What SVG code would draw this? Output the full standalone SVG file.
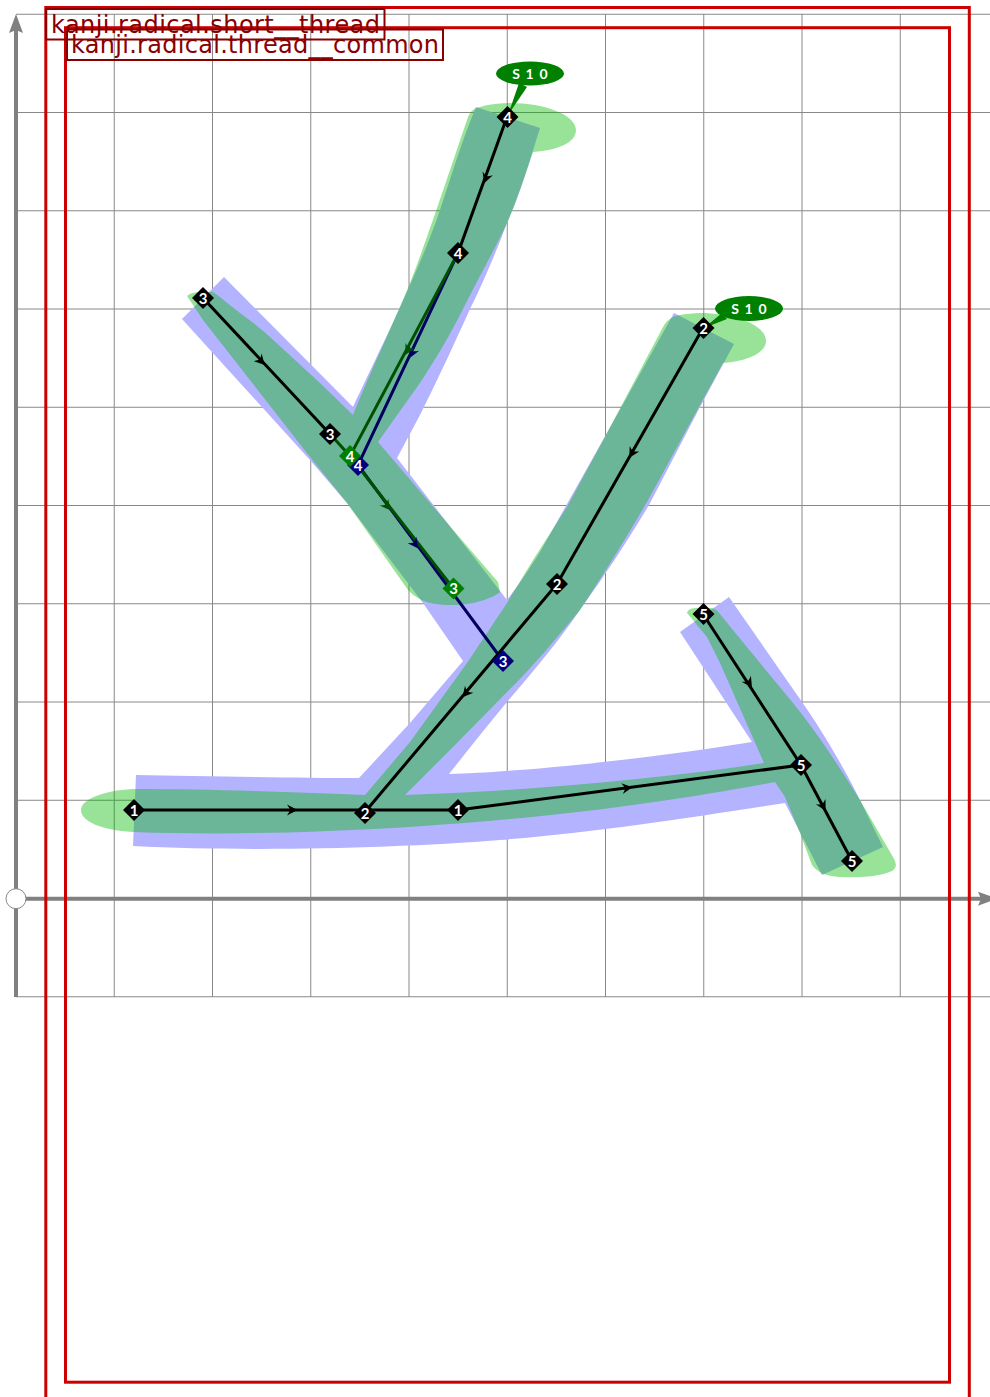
<svg xmlns="http://www.w3.org/2000/svg" width="990" height="1397" viewBox="0 0 990 1397">
<style>
.grid{stroke:#888;stroke-width:1;fill:none}
.axis{stroke:#808080;stroke-width:4;fill:none}
.frame{fill:none;stroke:#cc0000;stroke-width:3}
.lbox{fill:none;stroke:#880000;stroke-width:2}
.ltext{font-family:"DejaVu Sans","Liberation Sans",sans-serif;font-size:24px;fill:#880000}
.blue{fill:#b3b3ff}
.green{fill:rgb(0,185,0);fill-opacity:.4}
.ln{fill:none;stroke-width:3}
.k{stroke:#000}.g{stroke:#005000}.b{stroke:#000060}
.nt{font-family:"Lato","Liberation Sans",sans-serif;font-size:15px;font-weight:700;fill:#fff;text-anchor:middle}
.st{font-family:"Lato","Liberation Sans",sans-serif;font-size:14px;font-weight:700;fill:#fff;text-anchor:middle;letter-spacing:1.2px}
</style>
<defs>
<path id="arr" d="M5.5,0L-5,-5.5Q-2.5,-2 -2,0Q-2.5,2 -5,5.5Z"/>
<path id="d" d="M0,-11L11,0L0,11L-11,0Z"/>
<path id="axarr" d="M19,0L0,-7L3,0L0,7Z" fill="#808080"/>
</defs>
<g id="grid">
<path class="grid" d="M114.25,14V997M212.5,14V997M310.75,14V997M409,14V997M507.25,14V997M605.5,14V997M703.75,14V997M802,14V997M900.25,14V997"/>
<path class="grid" d="M16,14.25H990M16,112.5H990M16,210.75H990M16,309H990M16,407.25H990M16,505.5H990M16,603.75H990M16,702H990M16,800.25H990M16,996.75H990"/>
</g>
<g id="axes">
<path class="axis" d="M16,997V25M16,898.7H985"/>
<use href="#axarr" transform="translate(16,33) rotate(-90)"/>
<use href="#axarr" transform="translate(978,898.7)"/>
<circle cx="16" cy="898.7" r="10" fill="#fff" stroke="#888" stroke-width="1"/>
</g>
<g id="frames">
<path id="frame-short" class="frame" d="M45.8,1400V7.5H969.3V1400"/>
<rect id="frame-common" class="frame" x="65.5" y="27.7" width="884" height="1354.5"/>
</g>
<g id="strokes">
<path class="blue" d="M136,775C200,776 300,778 359,778L410,723L463,661L423,603L347,503L310,460L182,319L224,277L353,407C375,360 420,270 440,210C450,180 462,140 476,107L540,128C530,160 520,195 507,223C495,255 482,285 470,309C455,342 440,375 420,415L397,458L507,600C520,583 530,568 540,552L603,440L674,313L734,344L700,407L649,505C625,545 605,575 582,607C560,640 530,675 507,702C488,725 468,750 449,774C520,772 640,760 752,742L680,632L729,597L802,702C820,728 840,760 860,800L883,847L822,875L785,803C700,816 600,832 500,840C400,848 250,852 133,846Z"/>
<path class="green" d="M81,810C81,798 110,789 137,789C200,789 300,792 365,795L410,742L467,663L507,603L533,560L567,507L607,433L663,327C667,320 672,316 680,315C686,314 693,313 700,313C735,313 766,325 766,341C766,352 750,361 723,363L700,405L647,502C625,540 605,572 580,610C555,640 530,670 507,692C475,725 440,760 405,795C500,792 640,782 764,763L720,663L707,637L687,613C688,609 692,608 697,608L712,608C716,609 718,611 720,614C745,645 770,675 793,703C815,730 835,760 860,800L893,857C897,864 897,868 892,871C880,877 855,878 840,877C825,876 818,873 812,865L800,833L785,797L775,782C680,800 560,818 393,828C300,833 220,835 133,832C100,830 81,821 81,810Z"/>
<path class="green" d="M187,296C190,293 195,292 200,292L213,292L220,297C235,310 255,323 270,337L320,383L353,415C370,373 395,320 410,283C425,245 445,185 468,117C471,110 475,108 480,107C490,104 500,103 510,103C545,103 576,115 576,130C576,142 560,150 533,152C525,175 517,200 507,223C497,245 480,275 463,309C450,335 438,355 422,380L378,442L430,503L498,582L500,592C495,597 475,605 453,605C435,605 420,603 408,590L347,503L310,457L203,320Z"/>
</g>
<g id="connectors">
<path class="ln b" d="M458,253L358,465L503,661"/>
<path class="ln g" d="M458,253L350,456L453,588M330,434L350,456"/>
<path class="ln k" d="M134,810L458,810L801,765M703,328L557,584L365,812M703,614L801,765L852,861M203,298L330,434M507,117L458,253"/>
<use href="#arr" transform="translate(292,810)"/>
<use href="#arr" transform="translate(627,788) rotate(-7.5)"/>
<use href="#arr" transform="translate(632,453) rotate(119.7)"/>
<use href="#arr" transform="translate(466,693) rotate(130)"/>
<use href="#arr" transform="translate(749,683) rotate(57)"/>
<use href="#arr" transform="translate(823,806) rotate(62)"/>
<use href="#arr" transform="translate(261,361) rotate(47)"/>
<use href="#arr" transform="translate(486,178) rotate(110)"/>
<use href="#arr" fill="#000060" transform="translate(412,353) rotate(115)"/>
<use href="#arr" fill="#000060" transform="translate(415,544) rotate(53.5)"/>
<use href="#arr" fill="#005000" transform="translate(408,350) rotate(118)"/>
<use href="#arr" fill="#005000" transform="translate(387,506) rotate(52)"/>
</g>
<g id="callout-1" fill="#008000"><path d="M519,83L527,87L508,115Z"/><ellipse cx="530" cy="73.5" rx="34" ry="12"/><text class="st" x="530.5" y="78.5">S 1 0</text></g>
<g id="callout-2" fill="#008000"><path d="M722,313L727,319L704,328Z"/><ellipse cx="749" cy="308.5" rx="34" ry="12.5"/><text class="st" x="749.5" y="313.5">S 1 0</text></g>
<g id="node-1a"><use href="#d" x="134" y="810"/><text class="nt" x="134" y="815.5">1</text></g>
<g id="node-2a"><use href="#d" x="365" y="813"/><text class="nt" x="365" y="818.5">2</text></g>
<g id="node-1b"><use href="#d" x="458" y="810"/><text class="nt" x="458" y="815.5">1</text></g>
<g id="node-5a"><use href="#d" x="801" y="765"/><text class="nt" x="801" y="770.5">5</text></g>
<g id="node-5b"><use href="#d" x="703.5" y="614"/><text class="nt" x="703.5" y="619.5">5</text></g>
<g id="node-5c"><use href="#d" x="852" y="861"/><text class="nt" x="852" y="866.5">5</text></g>
<g id="node-2b"><use href="#d" x="703.5" y="328"/><text class="nt" x="703.5" y="333.5">2</text></g>
<g id="node-2c"><use href="#d" x="557" y="584"/><text class="nt" x="557" y="589.5">2</text></g>
<g id="node-3a"><use href="#d" x="203" y="298"/><text class="nt" x="203" y="303.5">3</text></g>
<g id="node-3b"><use href="#d" x="330" y="434"/><text class="nt" x="330" y="439.5">3</text></g>
<g id="node-4a"><use href="#d" x="507.5" y="117"/><text class="nt" x="507.5" y="122.5">4</text></g>
<g id="node-4b"><use href="#d" x="458" y="253"/><text class="nt" x="458" y="258.5">4</text></g>
<g id="node-4-blue" fill="#000080"><use href="#d" x="358" y="465"/><text class="nt" x="358" y="470.5">4</text></g>
<g id="node-4-green" fill="#008000"><use href="#d" x="350" y="456"/><text class="nt" x="350" y="461.5">4</text></g>
<g id="node-3-blue" fill="#000080"><use href="#d" x="503" y="661"/><text class="nt" x="503" y="666.5">3</text></g>
<g id="node-3-green" fill="#008000"><use href="#d" x="453.5" y="588.5"/><text class="nt" x="453.5" y="594">3</text></g>
<g id="label-short"><rect class="lbox" x="46" y="9" width="338.5" height="30.5"/><text class="ltext" x="51" y="32.5" textLength="329">kanji.radical.short__thread</text></g>
<g id="label-common"><rect class="lbox" x="67" y="29.5" width="376" height="30.5"/><text class="ltext" x="71" y="52.5" textLength="368">kanji.radical.thread__common</text></g>
</svg>
